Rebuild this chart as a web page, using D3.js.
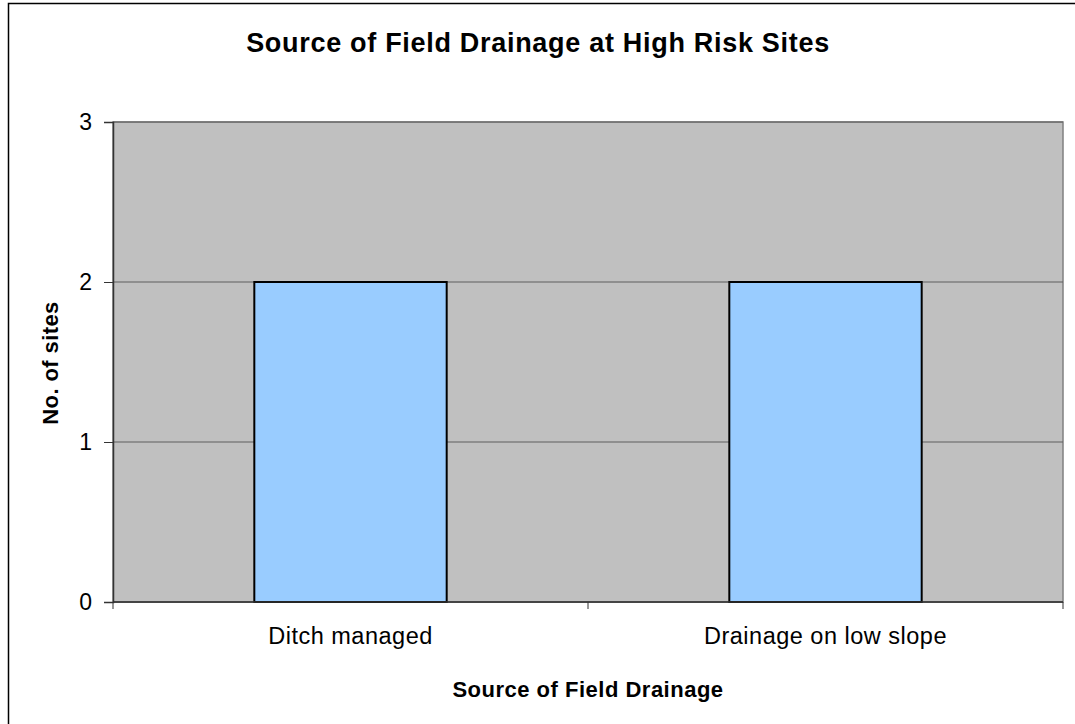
<!DOCTYPE html>
<html>
<head>
<meta charset="utf-8">
<script src="https://cdn.jsdelivr.net/npm/d3@7"></script>
<style>
  body { margin: 0; background: #fff; }
  text { font-family: "Liberation Sans", Arial, sans-serif; fill: #000; }
</style>
</head>
<body>
<div id="chart"></div>
<script>
// chart data
var categories = ["Ditch managed", "Drainage on low slope"];
var siteCounts = [2, 2];
var yTicks = [0, 1, 2, 3];

var margin = {top: 122, right: 12, bottom: 122, left: 113},
    width = 1075 - margin.left - margin.right,
    height = 724 - margin.top - margin.bottom;

var svg = d3.select("#chart").append("svg")
    .attr("width", 1075)
    .attr("height", 724);

// outer chart border (runs off right and bottom of the frame)
svg.append("rect")
    .attr("x", 8.5).attr("y", 3.5)
    .attr("width", 1100).attr("height", 760)
    .attr("fill", "none").attr("stroke", "#000").attr("stroke-width", 1.5);

var g = svg.append("g")
    .attr("transform", "translate(" + margin.left + "," + margin.top + ")");

var x = d3.scaleBand().domain(categories).range([0, width])
    .paddingInner(0.595).paddingOuter(0.2975);
var y = d3.scaleLinear().domain([0, 3]).range([height, 0]);

// plot area
g.append("rect")
    .attr("width", width).attr("height", height)
    .attr("fill", "#c0c0c0").attr("stroke", "#808080").attr("stroke-width", 1.5);

// gridlines
g.selectAll(".grid").data(yTicks).enter().append("line")
    .attr("x1", 0).attr("x2", width)
    .attr("y1", function(d){ return y(d); })
    .attr("y2", function(d){ return y(d); })
    .attr("stroke", "#5e5e5e").attr("stroke-width", 1.2);

// bars
g.selectAll(".bar").data(siteCounts).enter().append("rect")
    .attr("x", function(d, i){ return x(categories[i]); })
    .attr("y", function(d){ return y(d); })
    .attr("width", x.bandwidth())
    .attr("height", function(d){ return height - y(d); })
    .attr("fill", "#99ccff").attr("stroke", "#000").attr("stroke-width", 2);

// y axis
var yAxis = g.append("g")
    .call(d3.axisLeft(y).tickValues(yTicks).tickFormat(d3.format("d")).tickSize(9).tickPadding(12));
yAxis.select(".domain").attr("stroke", "#333").attr("stroke-width", 1.5);
yAxis.selectAll(".tick line").attr("stroke", "#333");
yAxis.selectAll(".tick text").style("font-size", "23px").attr("font-family", null);

// x axis: ticks sit between categories
var step = x.step();
var xEdges = d3.range(categories.length + 1).map(function(i){ return i * step; });
var xAxis = g.append("g").attr("transform", "translate(0," + height + ")");
xAxis.append("line").attr("x1", 0).attr("x2", width)
    .attr("stroke", "#333").attr("stroke-width", 1.5);
xAxis.selectAll(".xtick").data(xEdges).enter().append("line")
    .attr("x1", function(d){ return d; }).attr("x2", function(d){ return d; })
    .attr("y1", 0).attr("y2", 7).attr("stroke", "#333");
xAxis.selectAll(".xlabel").data(categories).enter().append("text")
    .attr("x", function(d){ return x(d) + x.bandwidth() / 2; })
    .attr("y", 42)
    .style("text-anchor", "middle").style("font-size", "23.5px").style("letter-spacing", "0.5px")
    .text(function(d){ return d; });

// title
svg.append("text")
    .attr("x", 538).attr("y", 52)
    .style("text-anchor", "middle").style("font-size", "27px").style("font-weight", "bold")
    .style("letter-spacing", "0.7px")
    .text("Source of Field Drainage at High Risk Sites");

// x axis label
svg.append("text")
    .attr("x", margin.left + width / 2).attr("y", 697)
    .style("text-anchor", "middle").style("font-size", "22px").style("font-weight", "bold")
    .style("letter-spacing", "0.5px")
    .text("Source of Field Drainage");

// y axis label
svg.append("text")
    .attr("transform", "rotate(-90)")
    .attr("x", -363).attr("y", 58)
    .style("text-anchor", "middle").style("font-size", "22px").style("font-weight", "bold")
    .style("letter-spacing", "0.4px")
    .text("No. of sites");
</script>
</body>
</html>
